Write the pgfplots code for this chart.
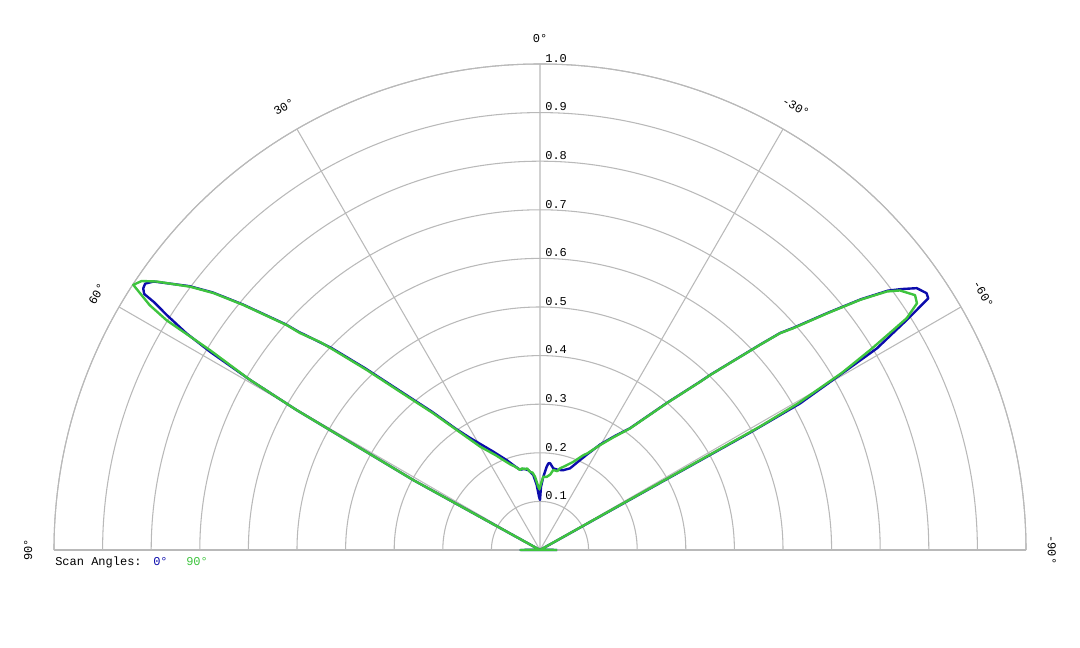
\documentclass[border=0pt]{standalone}
\usepackage{pgfplots}
\usepackage{pgfplotstable}
\pgfplotsset{compat=1.18}
\usepgfplotslibrary{polar}
\usetikzlibrary{calc}
\usepackage{fontspec}
\setmainfont{Liberation Mono}

\definecolor{gridgray}{RGB}{185,185,185}
\definecolor{scanblue}{RGB}{12,12,172}
\definecolor{scangreen}{RGB}{62,196,62}

% angle (deg, 0 = broadside, positive to the left), normalised amplitude
\pgfplotstableread{
a r
-90 0.035
-88 0.010
-75 0.000
-61.6 0.000
-60.8 0.500
-60.6 0.614
-59.6 0.732
-59.1 0.808
-57.9 0.891
-57.5 0.919
-57.05 0.952
-56.4 0.955
-55.2 0.944
-54.2 0.918
-53.3 0.893
-52.0 0.838
-50.5 0.767
-48.8 0.695
-47.9 0.666
-47.0 0.620
-44.2 0.503
-43.6 0.479
-40.8 0.400
-36.5 0.312
-33.0 0.278
-29.7 0.250
-26.2 0.219
-22.9 0.195
-20.2 0.179
-16.2 0.171
-12.9 0.169
-9.3 0.170
-6.6 0.180
-5.5 0.179
-4.6 0.172
-2.6 0.151
-0.9 0.130
0.0 0.103
1.1 0.110
2.9 0.134
5.1 0.155
8.3 0.166
11.0 0.170
14.0 0.170
17.4 0.183
20.3 0.197
25.4 0.224
32.1 0.273
34.8 0.304
38.0 0.361
41.5 0.440
43.9 0.519
45.9 0.597
47.9 0.670
48.4 0.699
50.45 0.794
51.8 0.857
53.04 0.903
55.2 0.968
56.0 0.980
56.6 0.978
57.1 0.970
57.3 0.943
57.8 0.908
58.5 0.853
59.0 0.792
59.6 0.692
60.1 0.578
61.1 0.298
61.6 0.000
75 0.000
88 0.010
90 0.040
-90 0.035
}\bluedata

\pgfplotstableread{
a r
-90 0.035
-88 0.010
-75 0.000
-61.6 0.000
-60.7 0.520
-60.4 0.610
-59.6 0.720
-58.8 0.794
-58.1 0.855
-57.7 0.893
-56.8 0.927
-55.8 0.933
-54.2 0.913
-53.3 0.890
-52.0 0.836
-50.5 0.765
-48.8 0.693
-47.9 0.665
-47.0 0.619
-44.2 0.502
-43.6 0.478
-40.8 0.399
-36.5 0.311
-33.0 0.276
-29.7 0.248
-26.2 0.222
-24.5 0.214
-20.7 0.194
-16.5 0.180
-13.8 0.173
-12.3 0.166
-9.4 0.167
-7.8 0.157
-5.2 0.151
-2.6 0.151
-1.0 0.138
0.5 0.125
1.5 0.130
3.9 0.151
5.5 0.160
7.3 0.162
9.0 0.170
10.5 0.169
12.5 0.172
14.0 0.170
17.0 0.180
19.0 0.186
22.2 0.200
25.0 0.215
28.0 0.232
30.1 0.246
34.8 0.301
38.0 0.357
41.5 0.435
43.9 0.514
45.9 0.592
46.6 0.623
47.9 0.666
48.4 0.697
50.45 0.792
51.8 0.855
53.04 0.901
55.0 0.963
55.97 0.989
56.9 0.999
57.9 0.948
58.4 0.902
58.8 0.794
59.6 0.692
60.1 0.578
61.1 0.298
61.6 0.000
75 0.000
88 0.010
90 0.040
-90 0.035
}\greendata

\newcommand\lbl{\fontsize{9pt}{11pt}\selectfont}

\begin{document}
\begin{tikzpicture}
\begin{polaraxis}[
  scale only axis,
  width=729pt, height=729pt,
  xmin=0, xmax=180, ymin=0, ymax=1,
  xtick={0,30,...,180},
  ytick={0.1,0.2,0.3,0.4,0.5,0.6,0.7,0.8,0.9,1.0},
  xticklabels={}, yticklabels={},
  major tick length=0pt,
  tick style={draw=none},
  grid=major,
  major grid style={gridgray, line width=0.8pt},
  axis line style={gridgray, line width=0.8pt},
  clip=false,
]
\addplot[scanblue, line width=1.8pt, line join=round, mark=none]
  table[x expr=\thisrow{a}+90, y=r]{\bluedata};
\addplot[scangreen, line width=1.8pt, line join=round, mark=none]
  table[x expr=\thisrow{a}+90, y=r]{\greendata};

\coordinate (O) at (axis cs:0,0);

% angle labels (polar angle = scan angle + 90)
\node[rotate=0,   inner sep=0pt, font=\lbl] at (axis cs:90,1.053) {0°};
\node[rotate=30,  inner sep=0pt, font=\lbl] at (axis cs:120,1.053) {30°};
\node[rotate=60,  inner sep=0pt, font=\lbl] at (axis cs:150,1.053) {60°};
\node[rotate=90,  inner sep=0pt, font=\lbl] at (axis cs:180,1.053) {90°};
\node[rotate=-30, inner sep=0pt, font=\lbl] at (axis cs:60,1.053) {-30°};
\node[rotate=-60, inner sep=0pt, font=\lbl] at (axis cs:30,1.053) {-60°};
\node[rotate=-90, inner sep=0pt, font=\lbl] at (axis cs:0,1.053) {-90°};
% radial labels
\node[anchor=south west, inner sep=0pt, font=\lbl, xshift=3.8pt, yshift=1pt] at (axis cs:90,0.1) {0.1};
\node[anchor=south west, inner sep=0pt, font=\lbl, xshift=3.8pt, yshift=1pt] at (axis cs:90,0.2) {0.2};
\node[anchor=south west, inner sep=0pt, font=\lbl, xshift=3.8pt, yshift=1pt] at (axis cs:90,0.3) {0.3};
\node[anchor=south west, inner sep=0pt, font=\lbl, xshift=3.8pt, yshift=1pt] at (axis cs:90,0.4) {0.4};
\node[anchor=south west, inner sep=0pt, font=\lbl, xshift=3.8pt, yshift=1pt] at (axis cs:90,0.5) {0.5};
\node[anchor=south west, inner sep=0pt, font=\lbl, xshift=3.8pt, yshift=1pt] at (axis cs:90,0.6) {0.6};
\node[anchor=south west, inner sep=0pt, font=\lbl, xshift=3.8pt, yshift=1pt] at (axis cs:90,0.7) {0.7};
\node[anchor=south west, inner sep=0pt, font=\lbl, xshift=3.8pt, yshift=1pt] at (axis cs:90,0.8) {0.8};
\node[anchor=south west, inner sep=0pt, font=\lbl, xshift=3.8pt, yshift=1pt] at (axis cs:90,0.9) {0.9};
\node[anchor=south west, inner sep=0pt, font=\lbl, xshift=3.8pt, yshift=1pt] at (axis cs:90,1.0) {1.0};
\end{polaraxis}

\node[anchor=base west, inner sep=0pt, font=\lbl] at ($(O)+(-363.75pt,-12pt)$) {Scan Angles:};
\node[anchor=base west, inner sep=0pt, font=\lbl, text=scanblue] at ($(O)+(-290.25pt,-12pt)$) {0°};
\node[anchor=base west, inner sep=0pt, font=\lbl, text=scangreen] at ($(O)+(-265.5pt,-12pt)$) {90°};

\pgfresetboundingbox
\path ($(O)+(-405pt,-73.5pt)$) rectangle ($(O)+(405pt,412.5pt)$);
\end{tikzpicture}
\end{document}
